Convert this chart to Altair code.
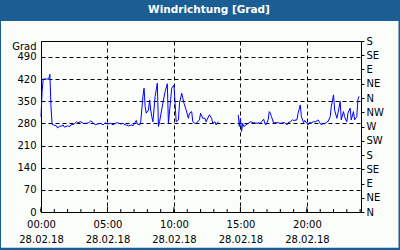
import altair as alt
import pandas as pd

DATE = "2018-02-28"
DATE_LABEL = "28.02.18"
TITLE = "Windrichtung [Grad]"
Y_TITLE = "Grad"

TIMES_1 = ["00:00", "00:05", "00:10", "00:35", "00:40", "00:45", "00:50", "00:55",
           "01:10", "01:15", "01:25", "01:30", "01:40", "01:45", "02:00", "02:10",
           "02:15", "02:30", "02:40", "02:45", "03:00", "03:10", "03:25", "03:35",
           "03:45", "03:55", "04:05", "04:15", "04:30", "04:40", "04:50", "05:00",
           "05:15", "05:25", "05:35", "05:45", "06:00", "06:10", "06:20", "06:25",
           "06:35", "06:50", "06:55", "07:10", "07:15", "07:25", "07:30", "07:40",
           "07:45", "07:50", "07:55", "08:05", "08:10", "08:15", "08:20", "08:25",
           "08:35", "08:40", "08:45", "08:50", "08:55", "09:10", "09:20", "09:30",
           "09:35", "09:45", "09:50", "10:00", "10:05", "10:10", "10:20", "10:25",
           "10:35", "10:45", "10:55", "11:05", "11:10", "11:20", "11:25", "11:35",
           "11:40", "11:55", "12:00", "12:10", "12:20", "12:25", "12:40", "12:50",
           "12:55", "13:05", "13:10", "13:20"]
VALUES_1 = [301, 380, 420, 420, 435, 333, 277, 275,
            272, 265, 272, 270, 275, 268, 272, 270,
            275, 278, 285, 282, 285, 280, 280, 282,
            288, 282, 275, 278, 280, 275, 282, 278,
            280, 275, 280, 282, 278, 280, 275, 275,
            272, 275, 272, 289, 278, 275, 285, 365,
            391, 333, 312, 322, 354, 322, 301, 285,
            365, 386, 407, 270, 285, 344, 380, 405,
            280, 354, 391, 401, 344, 285, 291, 344,
            375, 344, 322, 296, 312, 317, 285, 280,
            280, 291, 312, 296, 296, 285, 307, 296,
            280, 285, 275, 285]

TIMES_2 = ["14:50", "14:55", "15:00", "15:05", "15:10", "15:15", "15:25", "15:35",
           "15:45", "16:00", "16:15", "16:20", "16:30", "16:35", "16:45", "16:50",
           "16:55", "17:05", "17:10", "17:15", "17:20", "17:30", "17:35", "17:50",
           "18:00", "18:10", "18:20", "18:30", "18:35", "18:45", "18:55", "19:00",
           "19:15", "19:20", "19:30", "19:35", "19:45", "19:50", "20:00", "20:05",
           "20:10", "20:20", "20:30", "20:40", "20:50", "21:00", "21:05", "21:15",
           "21:20", "21:30", "21:35", "21:45", "21:50", "22:00", "22:05", "22:15",
           "22:20", "22:30", "22:35", "22:45", "22:50", "23:00", "23:05", "23:15",
           "23:20", "23:30", "23:35", "23:45", "23:50", "23:55"]
VALUES_2 = [307, 270, 296, 254, 280, 270, 275, 280,
            285, 282, 280, 282, 280, 285, 293, 280,
            275, 291, 317, 312, 301, 280, 282, 282,
            280, 282, 282, 275, 282, 285, 291, 289,
            291, 312, 338, 301, 282, 289, 280, 275,
            282, 282, 285, 285, 291, 280, 275, 280,
            278, 285, 285, 301, 333, 370, 322, 296,
            312, 349, 291, 317, 301, 285, 312, 328,
            291, 317, 291, 301, 354, 365]

Y_TICKS = [0, 70, 140, 210, 280, 350, 420, 490]
COMPASS_TICKS = [0, 45, 90, 135, 180, 225, 270, 315, 360, 405, 450, 495, 540]
COMPASS_LABELS = ["N", "NE", "E", "SE", "S", "SW", "W", "NW", "N", "NE", "E", "SE", "S"]
X_TICK_HOURS = [0, 5, 10, 15, 20]
MINOR_HOURS = list(range(0, 25))

W, H = 320, 171
FONT = "DejaVu Sans"
BLUE = "#1b5e94"

df = pd.DataFrame({
    "time": [f"{DATE}T{t}:00Z" for t in TIMES_1 + TIMES_2],
    "value": VALUES_1 + VALUES_2,
    "seg": [1] * len(TIMES_1) + [2] * len(TIMES_2),
})

def hour_iso(h):
    day = pd.Timestamp(DATE) + pd.Timedelta(hours=h)
    return day.strftime("%Y-%m-%dT%H:%M:00Z")

minor_df = pd.DataFrame({"time": [hour_iso(h) for h in MINOR_HOURS]})
major_df = pd.DataFrame({"time": [hour_iso(h) for h in X_TICK_HOURS]})
one = pd.DataFrame({"k": [0]})

x_scale = alt.Scale(
    type="utc",
    domain=[alt.DateTime(year=2018, month=2, date=28, hours=0, utc=True),
            alt.DateTime(year=2018, month=3, date=1, hours=0, minutes=4, utc=True)],
)
y_scale = alt.Scale(domain=[0, 540], nice=False, zero=True)

x_axis = alt.Axis(
    values=[alt.DateTime(year=2018, month=2, date=28, hours=h, utc=True) for h in X_TICK_HOURS],
    labelExpr=f"[utcFormat(datum.value, '%H:%M'), '{DATE_LABEL}']",
    title=None, ticks=False, domain=False,
    grid=True, gridColor="black", gridDash=[4, 3], gridOpacity=1, gridWidth=1,
    labelFont=FONT, labelFontSize=10, labelColor="black",
    labelPadding=7, labelLineHeight=15, labelBaseline="top", labelAlign="center",
    labelFlush=False, labelOverlap=False, labelBound=False,
)
left_axis = alt.Axis(
    orient="left", values=Y_TICKS, title=Y_TITLE, titleAngle=0, titleAlign="right",
    titleBaseline="middle", titleX=-5, titleY=5, titleFont=FONT, titleFontSize=10,
    titleFontWeight="normal", titleColor="black",
    labelFont=FONT, labelFontSize=10, labelColor="black", labelPadding=5,
    ticks=False, domain=False,
    grid=True, gridColor="black", gridDash=[4, 3], gridOpacity=1, gridWidth=1,
)
compass_expr = "[" + ",".join(f"'{c}'" for c in COMPASS_LABELS) + "][round(datum.value / 45)]"
right_axis = alt.Axis(
    orient="right", values=COMPASS_TICKS, labelExpr=compass_expr, title=None,
    grid=False, domain=False, ticks=True, tickSize=3, tickColor="black", tickWidth=1,
    labelFont=FONT, labelFontSize=10, labelColor="black", labelPadding=2,
    labelBaseline="middle", labelOverlap=False, labelBound=False, labelFlush=False,
)

line = alt.Chart(df).mark_line(color="#0000ff", strokeWidth=1).encode(
    x=alt.X("time:T", scale=x_scale, axis=x_axis),
    y=alt.Y("value:Q", scale=y_scale, axis=left_axis),
    detail="seg:N",
)
right = alt.Chart(df).mark_line(opacity=0).encode(
    x=alt.X("time:T", scale=x_scale, axis=x_axis),
    y=alt.Y("value:Q", scale=y_scale, axis=right_axis),
    detail="seg:N",
)
minor_ticks = alt.Chart(minor_df).mark_rule(color="black", strokeWidth=1).encode(
    x=alt.X("time:T", scale=x_scale, axis=x_axis),
    y=alt.value(H - 3), y2=alt.value(H),
)
major_ticks = alt.Chart(major_df).mark_rule(color="black", strokeWidth=1).encode(
    x=alt.X("time:T", scale=x_scale, axis=x_axis),
    y=alt.value(H - 5), y2=alt.value(H),
)

bar = alt.Chart(one).mark_rect(color=BLUE).encode(
    x=alt.value(-41), x2=alt.value(359), y=alt.value(-41), y2=alt.value(-20))
left_strip = alt.Chart(one).mark_rect(color=BLUE).encode(
    x=alt.value(-41), x2=alt.value(-40), y=alt.value(-20), y2=alt.value(209))
right_strip = alt.Chart(one).mark_rect(color=BLUE).encode(
    x=alt.value(357.5), x2=alt.value(359), y=alt.value(-20), y2=alt.value(209))
bottom_strip = alt.Chart(one).mark_rect(color=BLUE).encode(
    x=alt.value(-41), x2=alt.value(359), y=alt.value(206.8), y2=alt.value(209))
title_text = alt.Chart(one).mark_text(
    text=TITLE, color="white", font=FONT, fontSize=10.5, fontWeight="bold",
    align="center", baseline="alphabetic",
).encode(x=alt.value(168), y=alt.value(-28))

chart = alt.layer(
    bar, left_strip, right_strip, bottom_strip, title_text,
    line, right, minor_ticks, major_ticks,
).resolve_axis(y="independent").properties(
    width=W, height=H,
    padding={"left": 41, "top": 41, "right": 39, "bottom": 38},
    autosize="none",
    background="#fbfdfb",
).configure_view(stroke="black", strokeWidth=1)

chart.save("out.html", embed_options={"renderer": "svg", "actions": False})
